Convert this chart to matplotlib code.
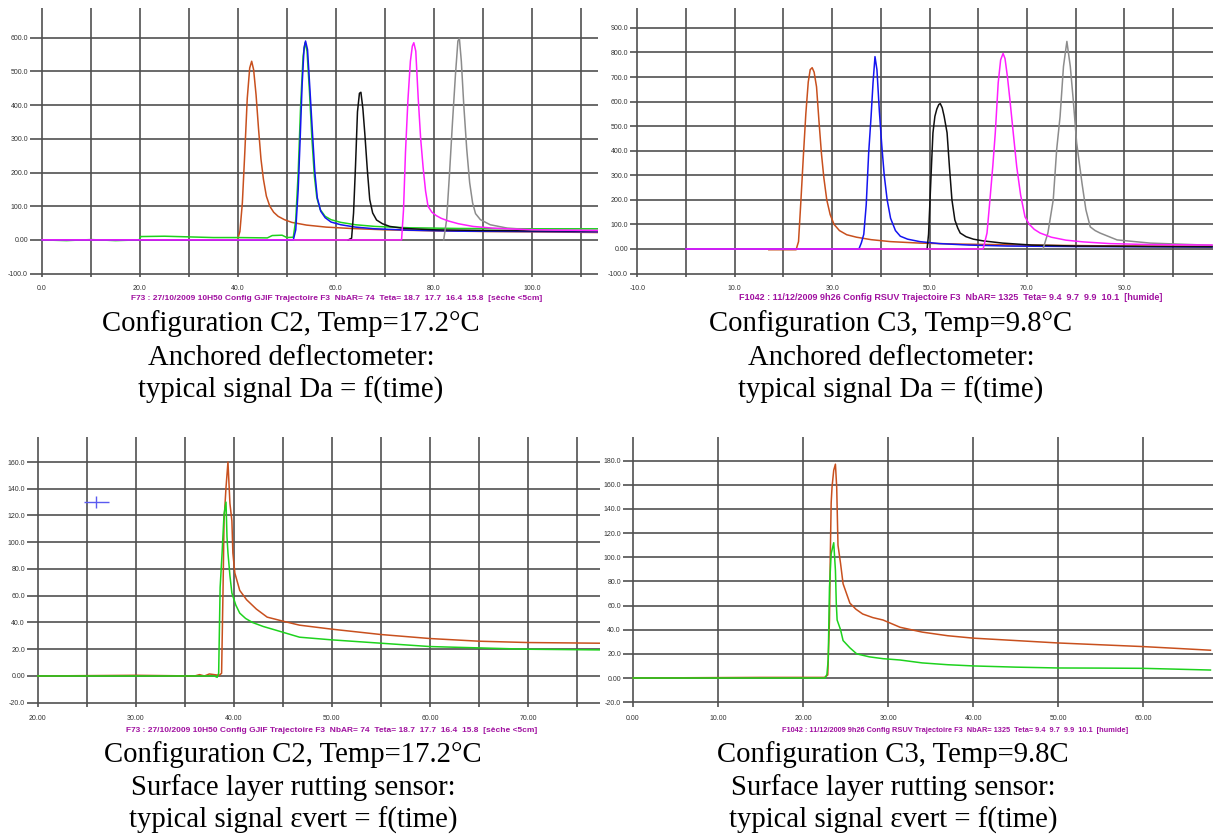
import matplotlib
matplotlib.use("Agg")
import matplotlib.pyplot as plt

W, H = 1213, 834

# ---------------- data ----------------
# top left : anchored deflectometer, config C2
tl_orange_t = [0, 39.9, 40.4, 40.9, 41.4, 41.9, 42.4, 42.8, 43.2, 43.7, 44.2, 44.7, 45.2, 45.8, 46.5, 47.3, 48.2,
               49.5, 51, 54, 58, 63, 70, 80, 90, 100, 113.5]
tl_orange_v = [0, 0, 25, 110, 260, 420, 510, 530, 505, 430, 330, 240, 180, 130, 100, 82, 70,
               60, 52, 44, 38, 34, 30, 27, 25, 24, 22]
tl_green_t = [0, 5, 10, 15, 19.8, 20.2, 25, 30, 35, 40, 46, 47, 49, 50, 51.3, 51.8, 52.3, 52.8, 53.3, 53.7, 54.1,
              54.6, 55.1, 55.6, 56.1, 56.8, 57.8, 59, 61, 64, 68, 75, 85, 100, 113.5]
tl_green_v = [0, -2, 1, -2, 0, 10, 11, 9, 7, 7, 6, 13, 14, 7, 8, 60, 200, 400, 545, 585, 560,
              440, 300, 190, 125, 90, 70, 60, 52, 45, 40, 36, 34, 33, 33]
tl_blue_t = [0, 51.3, 51.8, 52.3, 52.7, 53.1, 53.5, 53.8, 54.2, 54.7, 55.2, 55.7, 56.2, 56.9, 57.8, 59, 61, 64,
             68, 75, 85, 100, 113.5]
tl_blue_v = [0, 0, 30, 150, 300, 460, 570, 590, 565, 445, 320, 200, 125, 85, 66, 53, 45, 38,
             33, 29, 26, 25, 24]
tl_black_t = [62.5, 63.2, 63.6, 64.0, 64.4, 64.8, 65.1, 65.5, 65.9, 66.4, 66.9, 67.5, 68.3, 69.5, 71, 74, 80,
              90, 100, 113.5]
tl_black_v = [0, 5, 80, 220, 380, 435, 438, 390, 315, 210, 120, 80, 59, 48, 40, 34, 30,
              28, 27, 27]
tl_magenta_t = [0, 73.4, 73.8, 74.2, 74.7, 75.2, 75.6, 75.9, 76.3, 76.8, 77.3, 77.8, 78.3, 78.8, 79.6, 80.5,
                81.5, 83, 85, 88, 92, 98, 105, 113.5]
tl_magenta_v = [0, 0, 90, 260, 415, 530, 575, 585, 560, 420, 300, 215, 145, 100, 82, 72,
                64, 56, 48, 40, 35, 31, 29, 28]
tl_gray_t = [82.0, 82.6, 83.2, 83.8, 84.4, 84.9, 85.2, 85.6, 86.1, 86.7, 87.3, 87.9, 88.5, 89.5, 91.5, 95,
             100, 113.5]
tl_gray_v = [0, 60, 200, 350, 490, 590, 598, 530, 400, 270, 170, 110, 78, 60, 45, 35,
             30, 28]

# top right : anchored deflectometer, config C3
tr_orange_t = [17.0, 22.6, 23.1, 23.6, 24.1, 24.6, 25.1, 25.5, 25.9, 26.3, 26.8, 27.3, 27.8, 28.3, 28.9, 29.6,
               30.4, 31.5, 33, 35, 38, 42, 48, 56, 70, 85, 108]
tr_orange_v = [-3, -3, 30, 200, 380, 550, 680, 730, 738, 720, 660, 520, 390, 290, 200, 140,
               100, 75, 58, 48, 38, 30, 24, 20, 16, 13, 11]
tr_blue_t = [0, 35.5, 36.0, 36.5, 37.0, 37.5, 38.0, 38.4, 38.8, 39.2, 39.7, 40.2, 40.7, 41.3, 42.0, 43.0,
             44.0, 45.5, 48, 52, 58, 66, 80, 95, 108]
tr_blue_v = [0, 0, 25, 60, 180, 390, 540, 677, 783, 730, 560, 420, 300, 200, 125, 75,
             52, 40, 30, 22, 16, 12, 10, 9, 8]
tr_black_t = [49.5, 49.8, 50.1, 50.4, 50.7, 51.1, 51.5, 51.9, 52.2, 52.6, 53.0, 53.6, 54.1, 54.6, 55.2, 55.8,
              56.3, 57.5, 59, 61, 65, 71, 80, 95, 108]
tr_black_v = [0, 60, 200, 340, 473, 540, 570, 588, 592, 575, 540, 473, 330, 200, 118, 85,
              65, 50, 40, 33, 24, 16, 12, 10, 9]
tr_magenta_t = [0, 61.0, 61.8, 62.4, 63.0, 63.5, 64.1, 64.6, 65.1, 65.5, 66.0, 66.5, 67.2, 67.9, 68.7, 69.6,
                70.5, 71.5, 72.7, 75, 78, 81.5, 87, 95, 108]
tr_magenta_v = [0, 0, 65, 200, 340, 473, 677, 770, 796, 775, 700, 608, 470, 335, 220, 131,
                100, 80, 65, 48, 36, 29, 22, 18, 16]
tr_gray_t = [73.3, 74.3, 75.4, 76.1, 76.8, 77.5, 78.2, 78.9, 79.5, 80.2, 81.3, 82.1, 83.0, 84.0, 85.0, 88.5,
             95.3, 108]
tr_gray_v = [0, 65, 200, 404, 539, 743, 845, 743, 608, 433, 268, 160, 90, 75, 65, 37,
             24, 15]

# bottom left : surface layer rutting sensor, config C2
bl_orange_t = [20, 30, 36, 36.5, 37, 37.5, 38, 38.5, 38.75, 38.9, 39.0, 39.2, 39.4, 39.6, 39.8, 39.9, 40.1,
               40.6, 41.3, 42.3, 43.4, 45, 46.7, 50, 55, 60, 65, 70, 77.3]
bl_orange_v = [0, 0.5, 0, 1, 0, 1.5, 1, 0.5, 2, 66, 116, 141, 160, 129, 116, 92, 77,
               64, 57, 50, 44, 41, 38, 35, 31, 28, 26, 25, 24.5]
bl_green_t = [20, 38.0, 38.3, 38.45, 38.6, 38.8, 39.0, 39.2, 39.3, 39.4, 39.6, 39.8, 40.2, 40.6, 41.2, 41.9,
              43, 44.4, 46.7, 50, 55, 60, 65, 70, 77.3]
bl_green_v = [0, 0, -1, 2, 66, 92, 121, 130, 104, 92, 75, 62, 53, 47, 43, 40,
              37, 34, 29, 27, 24.5, 22, 21, 20, 19.5]
bl_cursor_t = [25.9]
bl_cursor_v = [130]

# bottom right : surface layer rutting sensor, config C3
br_orange_t = [0, 15, 22.5, 22.9, 23.1, 23.2, 23.3, 23.4, 23.6, 23.8, 23.95, 24.1, 24.4, 24.7, 25.5, 26.2,
               27, 28.2, 29.4, 31.4, 34, 37, 40, 45, 50, 55, 60, 64, 67.9]
br_orange_v = [0, 0.5, 0.5, 2.5, 48, 103, 145, 158, 172, 177, 158, 110, 95, 78, 62, 57,
               53, 50, 48, 42, 38, 35, 33, 31, 29, 27.5, 26, 24.5, 23]
br_green_t = [0, 22.6, 22.8, 22.95, 23.1, 23.3, 23.6, 23.8, 23.9, 24.0, 24.4, 24.7, 25.5, 26.3, 27.8, 29.4,
              31.4, 34, 37, 40, 45, 50, 55, 60, 64, 67.9]
br_green_v = [0, 0, 3, 15, 75, 103, 112, 89, 62, 48, 40, 31, 25, 20, 17.5, 16,
              14.9, 12.5, 11, 10, 9, 8.3, 8.2, 8, 7.3, 6.6]

# grid / tick labels
tl_xgrid = [0, 10, 20, 30, 40, 50, 60, 70, 80, 90, 100, 110]
tl_xlabels = ["0.0", "", "20.0", "", "40.0", "", "60.0", "", "80.0", "", "100.0", ""]
tl_ygrid = [-100, 0, 100, 200, 300, 400, 500, 600]
tl_ylabels = ["-100.0", "0.00", "100.0", "200.0", "300.0", "400.0", "500.0", "600.0"]

tr_xgrid = [-10, 0, 10, 20, 30, 40, 50, 60, 70, 80, 90, 100]
tr_xlabels = ["-10.0", "", "10.0", "", "30.0", "", "50.0", "", "70.0", "", "90.0", ""]
tr_ygrid = [-100, 0, 100, 200, 300, 400, 500, 600, 700, 800, 900]
tr_ylabels = ["-100.0", "0.00", "100.0", "200.0", "300.0", "400.0", "500.0", "600.0", "700.0", "800.0", "900.0"]

bl_xgrid = [20, 25, 30, 35, 40, 45, 50, 55, 60, 65, 70, 75]
bl_xlabels = ["20.00", "", "30.00", "", "40.00", "", "50.00", "", "60.00", "", "70.00", ""]
bl_ygrid = [-20, 0, 20, 40, 60, 80, 100, 120, 140, 160]
bl_ylabels = ["-20.0", "0.00", "20.0", "40.0", "60.0", "80.0", "100.0", "120.0", "140.0", "160.0"]

br_xgrid = [0, 10, 20, 30, 40, 50, 60]
br_xlabels = ["0.00", "10.00", "20.00", "30.00", "40.00", "50.00", "60.00"]
br_ygrid = [-20, 0, 20, 40, 60, 80, 100, 120, 140, 160, 180]
br_ylabels = ["-20.0", "0.00", "20.0", "40.0", "60.0", "80.0", "100.0", "120.0", "140.0", "160.0", "180.0"]

footer_c2 = "F73 : 27/10/2009 10H50 Config GJIF Trajectoire F3  NbAR= 74  Teta= 18.7  17.7  16.4  15.8  [sèche <5cm]"
footer_c3 = "F1042 : 11/12/2009 9h26 Config RSUV Trajectoire F3  NbAR= 1325  Teta= 9.4  9.7  9.9  10.1  [humide]"

cap_tl = ["Configuration C2, Temp=17.2°C", "Anchored deflectometer:", "typical signal Da = f(time)"]
cap_tr = ["Configuration C3, Temp=9.8°C", "Anchored deflectometer:", "typical signal Da = f(time)"]
cap_bl = ["Configuration C2, Temp=17.2°C", "Surface layer rutting sensor:", "typical signal εvert = f(time)"]
cap_br = ["Configuration C3, Temp=9.8C", "Surface layer rutting sensor:", "typical signal εvert = f(time)"]

# ---------------- styling ----------------
C_ORANGE = '#c8501e'
C_GREEN = '#1ed21e'
C_BLUE = '#1414f0'
C_BLACK = '#101010'
C_MAGENTA = '#ff1eff'
C_GRAY = '#8c8c8c'
C_FOOT = '#a010a0'
LW = 1.1


def box(x0, y0, x1, y1):
    return [x0 / W, 1 - y1 / H, (x1 - x0) / W, (y1 - y0) / H]


def setup(ax, xlim, ylim, xg, xl, yg, yl):
    ax.set_xlim(xlim)
    ax.set_ylim(ylim)
    ax.set_xticks(xg)
    ax.set_xticklabels(xl)
    ax.set_yticks(yg)
    ax.set_yticklabels(yl)
    for s in ax.spines.values():
        s.set_visible(False)
    ax.grid(True, color='#505050', lw=1.2)
    ax.set_axisbelow(True)
    ax.tick_params(length=0, labelsize=5, labelcolor='#333333')
    ax.tick_params(axis='x', pad=6)
    ax.tick_params(axis='y', pad=1.5)
    for lab in ax.get_xticklabels() + ax.get_yticklabels():
        lab.set_family('Liberation Sans')


def footer(txt, cx, cy, size):
    fig.text(cx / W, 1 - cy / H, txt, ha='center', va='center', color=C_FOOT,
             fontsize=size, fontweight='bold', family='Liberation Sans')


def captions(lines, cx, baselines):
    for txt, by in zip(lines, baselines):
        fig.text(cx / W, 1 - by / H, txt, ha='center', va='baseline',
                 family='Liberation Serif', fontsize=20.7, color='black')


fig = plt.figure(figsize=(W / 100, H / 100), dpi=100)

# top left
ax = fig.add_axes(box(30, 8, 598, 277))
setup(ax, (-2.45, 113.5), (-110, 688), tl_xgrid, tl_xlabels, tl_ygrid, tl_ylabels)
ax.plot(tl_orange_t, tl_orange_v, color=C_ORANGE, lw=LW)
ax.plot(tl_green_t, tl_green_v, color=C_GREEN, lw=LW)
ax.plot(tl_blue_t, tl_blue_v, color=C_BLUE, lw=LW)
ax.plot(tl_black_t, tl_black_v, color=C_BLACK, lw=LW)
ax.plot(tl_gray_t, tl_gray_v, color=C_GRAY, lw=LW)
ax.plot(tl_magenta_t, tl_magenta_v, color=C_MAGENTA, lw=LW)
footer(footer_c2, 337, 298, 6.0)
captions(cap_tl, 291, [331, 365, 398])

# top right
ax = fig.add_axes(box(630, 8, 1213, 277))
setup(ax, (-11.5, 108.2), (-114, 981), tr_xgrid, tr_xlabels, tr_ygrid, tr_ylabels)
ax.plot(tr_orange_t, tr_orange_v, color=C_ORANGE, lw=LW)
ax.plot(tr_blue_t, tr_blue_v, color=C_BLUE, lw=LW)
ax.plot(tr_black_t, tr_black_v, color=C_BLACK, lw=LW)
ax.plot(tr_gray_t, tr_gray_v, color=C_GRAY, lw=LW)
ax.plot(tr_magenta_t, tr_magenta_v, color=C_MAGENTA, lw=LW)
footer(footer_c3, 951, 298, 6.5)
captions(cap_tr, 891, [331, 365, 398])

# bottom left
ax = fig.add_axes(box(27, 437, 600, 707))
setup(ax, (18.9, 77.35), (-23.2, 178.7), bl_xgrid, bl_xlabels, bl_ygrid, bl_ylabels)
ax.plot(bl_orange_t, bl_orange_v, color=C_ORANGE, lw=LW)
ax.plot(bl_green_t, bl_green_v, color=C_GREEN, lw=LW)
ax.plot(bl_cursor_t, bl_cursor_v, marker='_', ms=18, mew=1, color='#5a5af0', ls='none')
ax.plot(bl_cursor_t, bl_cursor_v, marker='|', ms=9, mew=1, color='#5a5af0', ls='none')
footer(footer_c2, 332, 730, 6.0)
captions(cap_bl, 293, [762, 795, 828])

# bottom right
ax = fig.add_axes(box(623, 437, 1213, 707))
setup(ax, (-1.18, 68.2), (-24, 199.5), br_xgrid, br_xlabels, br_ygrid, br_ylabels)
ax.plot(br_orange_t, br_orange_v, color=C_ORANGE, lw=LW)
ax.plot(br_green_t, br_green_v, color=C_GREEN, lw=LW)
footer(footer_c3, 955, 730, 5.3)
captions(cap_br, 893, [762, 795, 828])

fig.savefig('out.png', dpi=100)
